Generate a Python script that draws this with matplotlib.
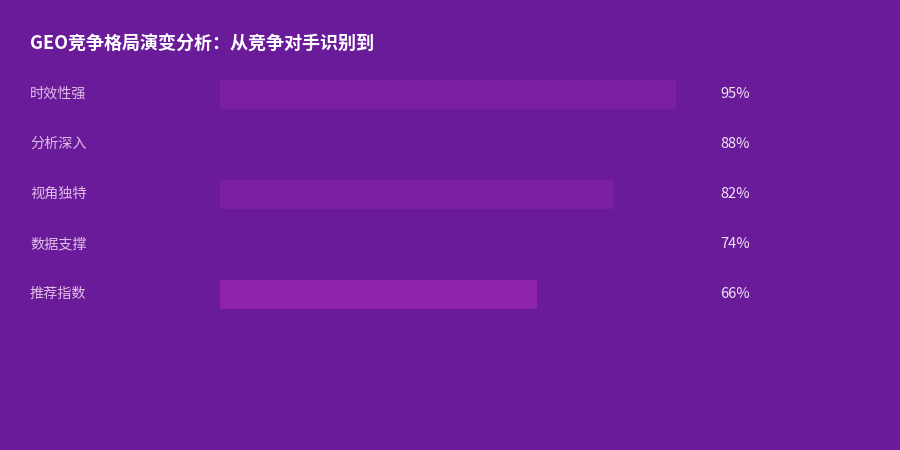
import numpy as np
import matplotlib.pyplot as plt
from matplotlib.transforms import blended_transform_factory

plt.rcParams['font.family'] = ['Noto Sans CJK SC', 'DejaVu Sans']

# 数据
title = "GEO竞争格局演变分析：从竞争对手识别到"
categories = ["时效性强", "分析深入", "视角独特", "数据支撑", "推荐指数"]
values = [95, 88, 82, 74, 66]
bar_colors = ["#7b1fa2", "#6a1b9a", "#7b1fa2", "#6a1b9a", "#8e24aa"]

bg = "#6a1b9a"
label_col = "#e1bee7"
pct_col = "#f3e5f5"

fig = plt.figure(figsize=(9, 4.5), dpi=100)
fig.patch.set_facecolor(bg)

# axes: x 220..700 px, y 69..319 px
ax = fig.add_axes([220 / 900, 1 - 319 / 450, 480 / 900, 250 / 450])
ax.set_facecolor(bg)
ax.set_xlim(0, 100)
ax.set_ylim(len(categories) - 0.5, -0.5)
ax.axis("off")

y = np.arange(len(categories))
ax.barh(y, values, height=0.58, color=bar_colors, left=0)

# 标签和百分比
trans_lbl = blended_transform_factory(fig.transFigure, ax.transData)
for i, (cat, v) in enumerate(zip(categories, values)):
    ax.text(30 / 900, i, cat, transform=trans_lbl, ha="left", va="center",
            fontsize=10.2, color=label_col)
    ax.text(720 / 900, i, f"{v}%", transform=trans_lbl, ha="left", va="center",
            fontsize=10.5, color=pct_col)

fig.text(30 / 900, 1 - 44 / 450, title, ha="left", va="center",
         fontsize=13, fontweight="bold", color="white")

fig.savefig("out.png", dpi=100, facecolor=bg)
